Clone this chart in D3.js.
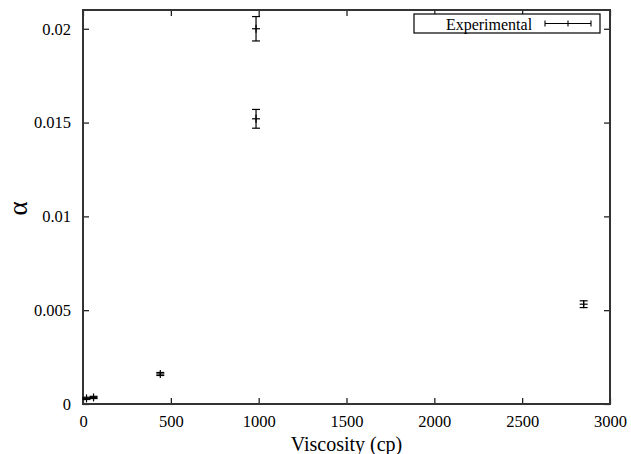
<!DOCTYPE html>
<html>
<head>
<meta charset="utf-8">
<script src="https://cdn.jsdelivr.net/npm/d3@7"></script>
<style>
  html, body { margin: 0; padding: 0; background: #fff; }
  svg text { font-family: "Liberation Serif", "Times New Roman", Times, Tinos, "DejaVu Serif", serif !important; fill: #000; }
</style>
</head>
<body>
<svg id="chart" width="631" height="454"></svg>
<script>
// Measured alpha versus viscosity, with y error bars
const viscosity = [20, 60, 440, 985, 985, 2850];
const alpha     = [0.0003, 0.00035, 0.0016, 0.0200, 0.0152, 0.00532];
const alphaErr  = [0.00006, 0.00006, 0.00008, 0.00065, 0.0005, 0.00018];
const xTicks = [0, 500, 1000, 1500, 2000, 2500, 3000];
const yTicks = [0, 0.005, 0.01, 0.015, 0.02];
const yTickLabels = ["0", "0.005", "0.01", "0.015", "0.02"];
const seriesName = "Experimental";

const svg = d3.select("#chart");
const W = 631, H = 454;
const m = { left: 83, right: 21, top: 10, bottom: 50 };
const iw = W - m.left - m.right, ih = H - m.top - m.bottom;

const x = d3.scaleLinear().domain([0, 3000]).range([m.left, m.left + iw]);
const y = d3.scaleLinear().domain([0, 0.021]).range([m.top + ih, m.top]);

const axisColor = "#333";
const tickLen = 6;

// Inward ticks on all four sides
const axBottom = svg.append("g").attr("transform", `translate(0,${m.top + ih})`)
  .call(d3.axisBottom(x).tickValues(xTicks).tickSize(-tickLen).tickPadding(11).tickFormat(d3.format("d")));
const axTop = svg.append("g").attr("transform", `translate(0,${m.top})`)
  .call(d3.axisTop(x).tickValues(xTicks).tickSize(-tickLen).tickFormat(""));
const axLeft = svg.append("g").attr("transform", `translate(${m.left},0)`)
  .call(d3.axisLeft(y).tickValues(yTicks).tickSize(-tickLen).tickPadding(12)
    .tickFormat((d, i) => yTickLabels[i]));
const axRight = svg.append("g").attr("transform", `translate(${m.left + iw},0)`)
  .call(d3.axisRight(y).tickValues(yTicks).tickSize(-tickLen).tickFormat(""));

[axBottom, axTop, axLeft, axRight].forEach(g => {
  g.attr("font-family", null);
  g.select(".domain").remove();
  g.selectAll(".tick line").attr("stroke", "#111").attr("stroke-width", 1.2);
  g.selectAll("text").attr("font-size", 16.5);
});

// Frame
svg.append("rect")
  .attr("x", m.left).attr("y", m.top).attr("width", iw).attr("height", ih)
  .attr("fill", "none").attr("stroke", axisColor).attr("stroke-width", 2);

// Axis titles
svg.append("text").attr("x", m.left + iw / 2).attr("y", 451)
  .attr("text-anchor", "middle").attr("font-size", 20).text("Viscosity (cp)");
svg.append("text")
  .attr("transform", "translate(17.5,208.5) rotate(-90)")
  .attr("text-anchor", "middle").attr("dominant-baseline", "central")
  .attr("font-size", 27).text("α");

// Error bars with "+" markers
const cap = 4, plus = 4;
const data = viscosity.map((v, i) => ({ v, a: alpha[i], e: alphaErr[i] }));
const pts = svg.append("g").attr("stroke", "#000").attr("stroke-width", 1.2).attr("fill", "none");
data.forEach(d => {
  const cx = x(d.v), cy = y(d.a), y0 = y(d.a - d.e), y1 = y(d.a + d.e);
  pts.append("line").attr("x1", cx).attr("x2", cx).attr("y1", y0).attr("y2", y1);
  pts.append("line").attr("x1", cx - cap).attr("x2", cx + cap).attr("y1", y0).attr("y2", y0);
  pts.append("line").attr("x1", cx - cap).attr("x2", cx + cap).attr("y1", y1).attr("y2", y1);
  pts.append("line").attr("x1", cx - plus).attr("x2", cx + plus).attr("y1", cy).attr("y2", cy);
  pts.append("line").attr("x1", cx).attr("x2", cx).attr("y1", cy - plus).attr("y2", cy + plus);
});

// Legend
const lg = svg.append("g");
lg.append("rect").attr("x", 414).attr("y", 14).attr("width", 186).attr("height", 19)
  .attr("fill", "#fff").attr("stroke", "#000").attr("stroke-width", 1.2);
lg.append("text").attr("x", 489).attr("y", 29.5).attr("text-anchor", "middle")
  .attr("font-size", 16).text(seriesName);
const lx0 = 545, lx1 = 591, ly = 23.5;
const lgs = lg.append("g").attr("stroke", "#000").attr("stroke-width", 1.1);
lgs.append("line").attr("x1", lx0).attr("x2", lx1).attr("y1", ly).attr("y2", ly);
lgs.append("line").attr("x1", lx0).attr("x2", lx0).attr("y1", ly - 3).attr("y2", ly + 3);
lgs.append("line").attr("x1", lx1).attr("x2", lx1).attr("y1", ly - 3).attr("y2", ly + 3);
lgs.append("line").attr("x1", (lx0 + lx1) / 2).attr("x2", (lx0 + lx1) / 2).attr("y1", ly - 3).attr("y2", ly + 3);
</script>
</body>
</html>
